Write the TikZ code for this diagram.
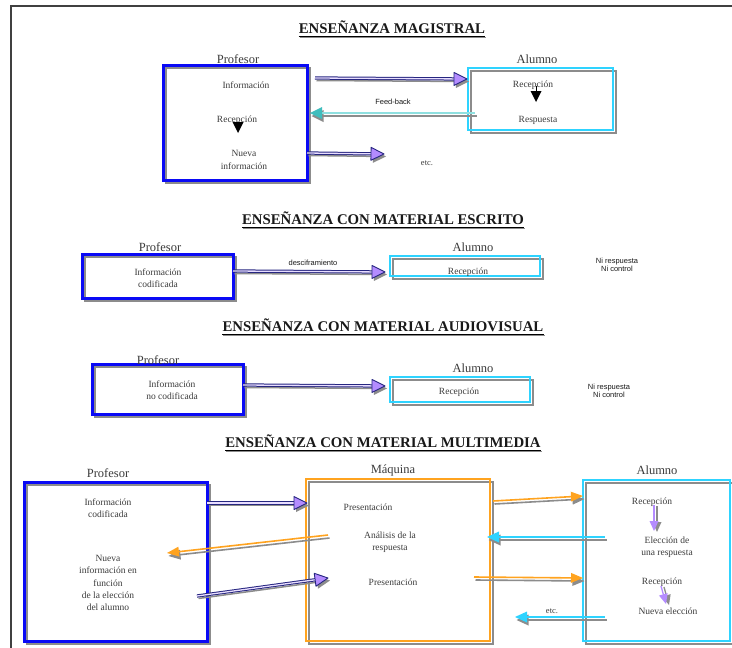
\documentclass[tikz,border=0pt]{standalone}
\usepackage{fontspec}
\setmainfont{Liberation Serif}
\setsansfont{Liberation Sans}
\usetikzlibrary{calc,fit}
\definecolor{navyc}{HTML}{262680}
\definecolor{lav}{HTML}{B48CFF}
\definecolor{cyanb}{HTML}{2ED3FF}
\definecolor{tealc}{HTML}{40BDBD}
\definecolor{tealline}{HTML}{8FE0E0}
\definecolor{orng}{HTML}{FFA31F}
\definecolor{blueb}{HTML}{0A0AF5}
\definecolor{shadowc}{HTML}{8C8C8C}
\definecolor{txtc}{HTML}{3C3C3C}

% arrow head: tip, from, offset, style, length, half width
\newcommand{\ahead}[6]{\path[#4] ($(#1)+#3$) -- ($(#1)!#5!(#2)!#6!90:(#1)+#3$) -- ($(#1)!#5!(#2)!#6!-90:(#1)+#3$) -- cycle;}
% double navy arrow with lavender head
\newcommand{\dblarrow}[2]{%
  \draw[shadowc, line width=1.5pt] ($(#1)+(1.5,2.5)$) -- ($(#2)!11pt!(#1)+(1.5,2.5)$);
  \ahead{#2}{#1}{(2,2.5)}{fill=shadowc}{13pt}{6.5pt}
  \draw[navyc, line width=1pt, double=lav!30, double distance=1.3pt] (#1) -- ($(#2)!11pt!(#1)$);
  \ahead{#2}{#1}{(0,0)}{fill=lav, draw=navyc, line width=0.9pt, line join=round}{13pt}{6.5pt}}
% single arrow with gray shadow: from, to, line colour, head colour, half width
\newcommand{\sarrow}[5]{%
  \draw[shadowc, line width=1.6pt] ($(#1)+(1.5,3)$) -- ($(#2)!10pt!(#1)+(1.5,3)$);
  \ahead{#2}{#1}{(1.5,3)}{fill=shadowc}{12pt}{#5}
  \draw[#3, line width=1.6pt] (#1) -- ($(#2)!10pt!(#1)$);
  \ahead{#2}{#1}{(0,0)}{fill=#4}{12pt}{#5}}
% small purple arrow
\newcommand{\parrow}[2]{%
  \draw[shadowc, line width=1.3pt] ($(#1)+(3,1)$) -- ($(#2)!8pt!(#1)+(3,1)$);
  \ahead{#2}{#1}{(3,1)}{fill=shadowc}{10pt}{4.5pt}
  \draw[lav, line width=1.3pt] (#1) -- ($(#2)!8pt!(#1)$);
  \ahead{#2}{#1}{(0,0)}{fill=lav}{10pt}{4.5pt}}
% box with gray shadow: name, style, nw, se
\newcommand{\mybox}[4]{%
  \draw[shadowc, line width=2.2pt] ($#3+(3,3)$) rectangle ($#4+(3,3)$);
  \node[#2, inner sep=0pt, fit={#3 #4}] (#1) {};}
\newcommand{\titleline}[1]{%
  \draw[shadowc, line width=1.3pt] ($(#1.south west)+(1,4)$) -- ($(#1.south east)+(1,4)$);
  \draw[black, line width=1.3pt] ($(#1.south west)+(0,3)$) -- ($(#1.south east)+(0,3)$);}

\tikzset{
  title/.style={font=\bfseries\fontsize{14.8}{17}\selectfont, inner sep=0pt, text=black!90},
  who/.style={font=\fontsize{12.5}{14}\selectfont, text=txtc, inner sep=0pt},
  txt/.style={font=\fontsize{9.5}{12.3}\selectfont, text=txtc, align=center, inner sep=0pt},
  sans/.style={font=\sffamily\fontsize{7.5}{8.5}\selectfont, text=black!90, align=center, inner sep=0pt},
  bluebox/.style={draw=blueb, line width=3pt},
  cyanbox/.style={draw=cyanb, line width=2pt},
  orangebox/.style={draw=orng, line width=2pt},
}

\begin{document}
\begin{tikzpicture}[x=1pt,y=-1pt]
\useasboundingbox (0,0) rectangle (732,648);
\fill[white] (0,0) rectangle (732,648);
\draw[black!75, line width=1.6pt] (732,6) -- (11,6) -- (11,648);

%================ MAGISTRAL
\node[title] (t1) at (392,27) {ENSEÑANZA MAGISTRAL};
\titleline{t1}
\mybox{p1}{bluebox}{(163,65)}{(307,180)}
\mybox{a1}{cyanbox}{(468,68)}{(613,130)}
\node[who] (p1l) at (238,59) {Profesor};
\node[who] (a1l) at (537,59) {Alumno};
\node[txt] (p1a) at (246,85) {Información};
\node[txt] (p1b) at (237,120) {Recepción};
\node[txt] (p1c) at (244,160) {Nueva\\información};
\node[txt] (a1a) at (533,85) {Recepción};
\node[txt] (a1b) at (538,120) {Respuesta};
\coordinate (tr1a) at (238,121);
\coordinate (tr1b) at (238,133);
\ahead{tr1b}{tr1a}{(0,0)}{fill=black}{11pt}{5.5pt}
\coordinate (tr2a) at (536,86);
\coordinate (tr2b) at (536,102);
\draw[black, line width=0.6pt] (tr2a) -- (536,92);
\ahead{tr2b}{tr2a}{(0,0)}{fill=black}{11pt}{5.5pt}
\coordinate (m1s) at (315,78);
\coordinate (m1e) at (467,79);
\dblarrow{m1s}{m1e}
\coordinate (fbs) at (475,113);
\coordinate (fbe) at (310,113);
\sarrow{fbs}{fbe}{tealline}{tealc}{6pt}
\node[sans] (fbl) at (393,102) {Feed-back};
\coordinate (m3s) at (307,153);
\coordinate (m3e) at (384,154);
\dblarrow{m3s}{m3e}
\node[txt, font=\fontsize{8.5}{10}\selectfont] (etc1) at (427,163) {etc.};

%================ ESCRITO
\node[title] (t2) at (383,218) {ENSEÑANZA CON MATERIAL ESCRITO};
\titleline{t2}
\mybox{p2}{bluebox}{(82,254)}{(233,298)}
\mybox{a2}{cyanbox}{(390,256)}{(540,276)}
\node[who] (p2l) at (160,247) {Profesor};
\node[who] (a2l) at (473,247) {Alumno};
\node[txt] (p2a) at (158,278) {Información\\codificada};
\node[txt] (a2a) at (468,272) {Recepción};
\coordinate (e2s) at (233,271);
\coordinate (e2e) at (385,272);
\dblarrow{e2s}{e2e}
\node[sans] (e2l) at (313,263) {desciframiento};
\node[sans] (n2) at (617,265) {Ni respuesta\\Ni control};

%================ AUDIOVISUAL
\node[title] (t3) at (383,325) {ENSEÑANZA CON MATERIAL AUDIOVISUAL};
\titleline{t3}
\mybox{p3}{bluebox}{(92,364)}{(243,414)}
\mybox{a3}{cyanbox}{(390,377)}{(530,402)}
\node[who] (p3l) at (158,360) {Profesor};
\node[who] (a3l) at (473,368) {Alumno};
\node[txt] (p3a) at (172,390) {Información\\no codificada};
\node[txt] (a3a) at (459,392) {Recepción};
\coordinate (v3s) at (243,385);
\coordinate (v3e) at (385,386);
\dblarrow{v3s}{v3e}
\node[sans] (n3) at (609,391) {Ni respuesta\\Ni control};

%================ MULTIMEDIA
\node[title] (t4) at (383,441) {ENSEÑANZA CON MATERIAL MULTIMEDIA};
\titleline{t4}
\mybox{p4}{bluebox}{(24,482)}{(207,641)}
\mybox{m4}{orangebox}{(306,479)}{(490,641)}
\mybox{a4}{cyanbox}{(583,480)}{(730,641)}
\node[who] (p4l) at (108,473) {Profesor};
\node[who] (m4l) at (393,470) {Máquina};
\node[who] (a4l) at (657,470) {Alumno};
\node[txt] (p4a) at (108,508) {Información\\codificada};
\node[txt] (p4b) at (108,583) {Nueva\\información en\\función\\de la elección\\del alumno};
\node[txt] (m4a) at (368,507) {Presentación};
\node[txt] (m4b) at (390,542) {Análisis de la\\respuesta};
\node[txt] (m4c) at (393,582) {Presentación};
\node[txt] (a4a) at (652,502) {Recepción};
\node[txt] (a4b) at (667,547) {Elección de\\una respuesta};
\node[txt] (a4c) at (662,582) {Recepción};
\node[txt] (a4d) at (668,611) {Nueva elección};
% arrows
\coordinate (ma1) at (207,503);
\coordinate (ma2) at (307,503);
\dblarrow{ma1}{ma2}
\coordinate (mb1) at (493,501);
\coordinate (mb2) at (583,496);
\sarrow{mb1}{mb2}{orng}{orng}{5pt}
\coordinate (mc1) at (605,537);
\coordinate (mc2) at (487,537);
\sarrow{mc1}{mc2}{cyanb}{cyanb}{5.5pt}
\coordinate (md1) at (328,535);
\coordinate (md2) at (167,553);
\sarrow{md1}{md2}{orng}{orng}{5pt}
\coordinate (me1) at (197,596);
\coordinate (me2) at (328,578);
\dblarrow{me1}{me2}
\coordinate (mf1) at (474,577);
\coordinate (mf2) at (583,578);
\sarrow{mf1}{mf2}{orng}{orng}{5pt}
\coordinate (mg1) at (605,617);
\coordinate (mg2) at (515,617);
\sarrow{mg1}{mg2}{cyanb}{cyanb}{5.5pt}
\node[txt, font=\fontsize{8.5}{10}\selectfont] (etc4) at (552,611) {etc.};
\coordinate (pa1) at (654,505);
\coordinate (pa2) at (654,531);
\parrow{pa1}{pa2}
\coordinate (pb1) at (661,586);
\coordinate (pb2) at (666,604);
\parrow{pb1}{pb2}
\end{tikzpicture}
\end{document}
